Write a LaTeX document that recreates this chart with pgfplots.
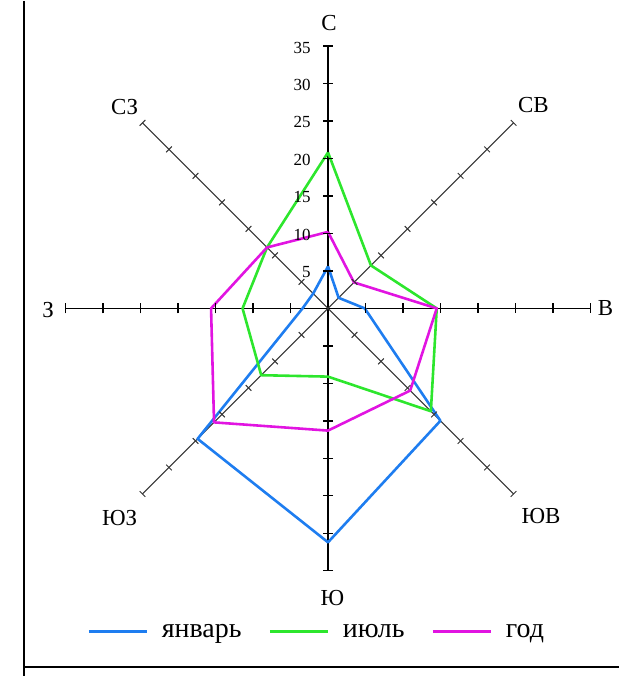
\documentclass[border=0pt]{standalone}
\usepackage{pgfplots}
\usepackage{pgfplotstable}
\pgfplotsset{compat=1.18}
\usepackage{fontspec}
\setmainfont{Liberation Serif}

\definecolor{cblue}{RGB}{30,125,240}
\definecolor{cgreen}{RGB}{45,230,45}
\definecolor{cmag}{RGB}{225,20,225}

% spoke radii (ticks every 5)
\pgfplotstableread{
r k
0 0
5 0
10 0
15 0
20 0
25 0
30 0
35 0
}\spokedata

% wind rose data: angle (deg, E=0, N=90), value
\pgfplotstableread{
a r
90 5.6
45 2.0
0 4.9
-45 21.2
-90 31.2
-135 24.6
180 3.4
135 2.8
90 5.6
}\januarydata

\pgfplotstableread{
a r
90 20.8
45 8.1
0 14.5
-45 19.4
-90 9.1
-135 12.6
180 11.4
135 11.5
90 20.8
}\julydata

\pgfplotstableread{
a r
90 10.2
45 4.9
0 14.5
-45 15.5
-90 16.3
-135 21.5
180 15.6
135 11.5
90 10.2
}\yeardata

\begin{document}
\begin{tikzpicture}
\begin{axis}[
  x=7.52bp, y=7.52bp,
  xmin=-43.75, xmax=38.83, ymin=-49.03, ymax=41.0,
  hide axis, clip=false, enlargelimits=false,
  legend columns=3,
  legend style={draw=none, fill=none, at={(axis cs:-1.5,-43.1)}, anchor=center,
    font=\fontsize{28bp}{32bp}\selectfont,
    /tikz/every even column/.append style={column sep=25bp},
    /tikz/every odd column/.append style={column sep=12bp}},
  legend image code/.code={\draw[#1, line width=2.6bp] (0bp,0bp) -- (58bp,0bp);},
]
\path (axis cs:-43.75,-49.03) rectangle (axis cs:38.83,41.0);

% cardinal spokes
\pgfplotsinvokeforeach{0,90,180,270}{
  \addplot[forget plot, black, line width=1.5bp, mark=|, mark phase=2, mark size=5bp,
    mark options={rotate=#1, line width=1.3bp}]
    table[x expr={\thisrow{r}*cos(#1)}, y expr={\thisrow{r}*sin(#1)}] {\spokedata};
}
% diagonal spokes
\pgfplotsinvokeforeach{45,135,225,315}{
  \addplot[forget plot, black!80, line width=1bp, mark=|, mark phase=2, mark size=4bp,
    mark options={rotate=#1, line width=1bp}]
    table[x expr={\thisrow{r}*cos(#1)}, y expr={\thisrow{r}*sin(#1)}] {\spokedata};
}

\addplot[cblue, line width=2.6bp, line join=round]
  table[x expr={\thisrow{r}*cos(\thisrow{a})}, y expr={\thisrow{r}*sin(\thisrow{a})}] {\januarydata};
\addlegendentry{январь}
\addplot[cgreen, line width=2.6bp, line join=round]
  table[x expr={\thisrow{r}*cos(\thisrow{a})}, y expr={\thisrow{r}*sin(\thisrow{a})}] {\julydata};
\addlegendentry{июль}
\addplot[cmag, line width=2.6bp, line join=round]
  table[x expr={\thisrow{r}*cos(\thisrow{a})}, y expr={\thisrow{r}*sin(\thisrow{a})}] {\yeardata};
\addlegendentry{год}

% scale labels on the north spoke
\pgfplotsinvokeforeach{5,10,15,20,25,30,35}{
  \node[anchor=east, inner sep=0pt, font=\fontsize{17bp}{20bp}\selectfont] at (axis cs:-2.3,#1-0.2) {#1};
}

% direction labels
\begin{scope}[every node/.style={font=\fontsize{23bp}{27bp}\selectfont, inner sep=0pt}]
\node at (axis cs:0.13,38.11) {С};
\node at (axis cs:27.39,27.17) {СВ};
\node at (axis cs:37.01,0) {В};
\node at (axis cs:28.42,-27.71) {ЮВ};
\node at (axis cs:0.57,-38.66) {Ю};
\node at (axis cs:-27.79,-27.93) {ЮЗ};
\node at (axis cs:-37.33,-0.23) {З};
\node at (axis cs:-27.13,26.81) {СЗ};
\end{scope}

% frame
\draw[black, line width=2bp] (axis cs:-40.56,41.0) -- (axis cs:-40.56,-49.03);
\draw[black, line width=2bp] (axis cs:-40.56,-47.83) -- (axis cs:38.83,-47.83);
\end{axis}
\end{tikzpicture}
\end{document}
